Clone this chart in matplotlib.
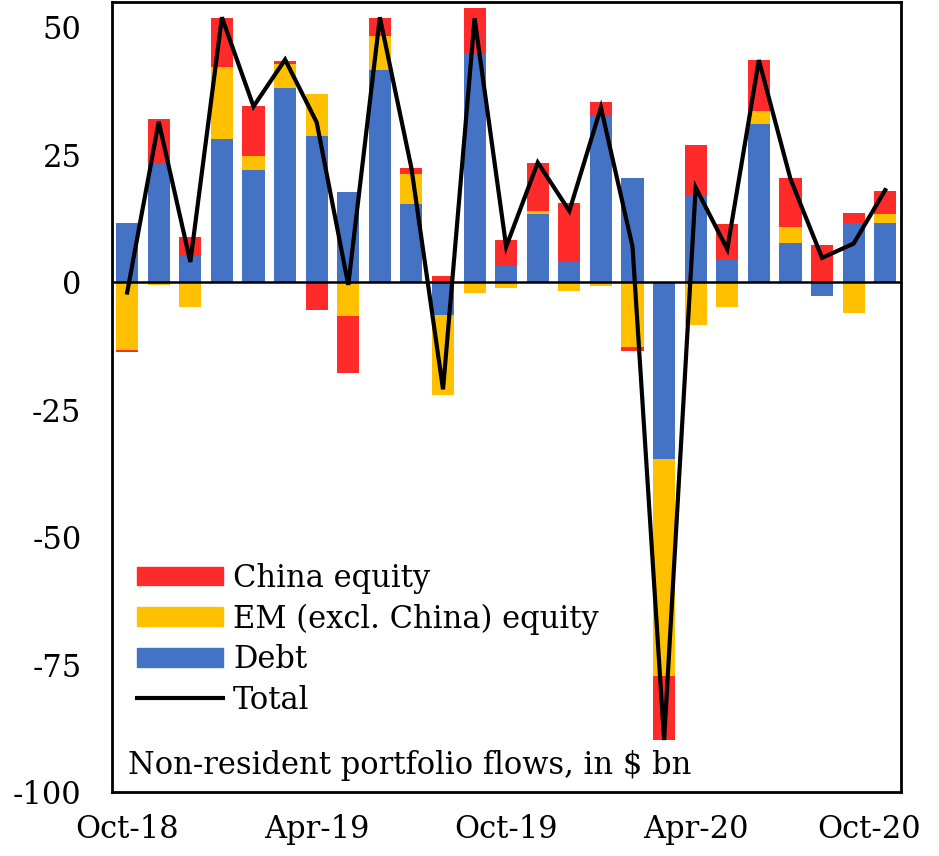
import matplotlib
matplotlib.use("Agg")
import matplotlib.pyplot as plt
import matplotlib.transforms as mtransforms
from matplotlib.patches import Patch
from matplotlib.lines import Line2D
import numpy as np

months = ["Oct-18", "Nov-18", "Dec-18", "Jan-19", "Feb-19", "Mar-19", "Apr-19",
          "May-19", "Jun-19", "Jul-19", "Aug-19", "Sep-19", "Oct-19", "Nov-19",
          "Dec-19", "Jan-20", "Feb-20", "Mar-20", "Apr-20", "May-20", "Jun-20",
          "Jul-20", "Aug-20", "Sep-20", "Oct-20"]
debt = [11.6, 23.3, 5.1, 28.2, 22.1, 38.1, 28.8, 17.7, 41.7, 15.4, -6.5, 44.8, 3.3,
        13.5, 4.0, 32.7, 20.5, -34.7, 16.9, 4.5, 31.0, 7.7, -2.7, 11.6, 11.6]
em_equity = [-13.3, -0.5, -4.8, 14.0, 2.7, 4.7, 8.2, -6.6, 6.7, 5.9, -15.7, -2.1, -1.2,
             0.5, -1.7, -0.8, -12.7, -42.6, -8.4, -4.8, 2.6, 3.1, 0.0, -6.1, 1.9]
china_equity = [-0.3, 8.8, 3.8, 9.7, 9.7, 0.7, -5.5, -11.2, 3.5, 1.2, 1.2, 9.1, 5.1,
                9.4, 11.5, 2.7, -0.7, -12.5, 10.0, 6.9, 10.0, 9.7, 7.3, 2.0, 4.5]
total = [-2.0, 31.5, 4.0, 52.0, 34.5, 43.7, 31.4, -0.5, 52.0, 22.4, -21.0, 51.8, 7.0,
         23.5, 14.0, 34.3, 7.0, -89.8, 18.6, 6.5, 43.6, 20.3, 4.8, 7.6, 18.1]
xtick_labels = ["Oct-18", "Apr-19", "Oct-19", "Apr-20", "Oct-20"]
ytick_values = [-100, -75, -50, -25, 0, 25, 50]

C_RED = "#FF2B2B"
C_YEL = "#FFC000"
C_BLUE = "#4472C4"
SERIF = ["DejaVu Serif"]

fig = plt.figure(figsize=(9.39, 8.56), dpi=100)
ax = fig.add_axes([112 / 939, 1 - 792 / 856, 789 / 939, 790 / 856])

x = np.arange(len(months))
pos_base = np.zeros(len(months))
neg_base = np.zeros(len(months))
for vals, col in [(debt, C_BLUE), (em_equity, C_YEL), (china_equity, C_RED)]:
    v = np.array(vals, dtype=float)
    base = np.where(v >= 0, pos_base, neg_base)
    ax.bar(x, v, bottom=base, width=0.7, color=col, linewidth=0, zorder=2)
    pos_base = pos_base + np.where(v > 0, v, 0)
    neg_base = neg_base + np.where(v < 0, v, 0)

ax.axhline(0, color="black", lw=1.8, zorder=3)
ax.plot(x, total, color="black", lw=3.0, zorder=4, solid_joinstyle="miter")

ax.set_xlim(-0.48, 24.5)
ax.set_ylim(-100, 55)
ax.set_yticks(ytick_values)
ax.set_yticklabels([str(v) for v in ytick_values], fontsize=22, family=SERIF)
ax.set_xticks(x[::6])
ax.set_xticklabels(xtick_labels, fontsize=22, family=SERIF)
ax.tick_params(axis="both", length=0)
ax.tick_params(axis="y", pad=22)
ax.tick_params(axis="x", pad=16)
last = ax.get_xticklabels()[-1]
last.set_transform(last.get_transform() + mtransforms.ScaledTranslation(-16 / 100, 0, fig.dpi_scale_trans))

for s in ax.spines.values():
    s.set_linewidth(2.0)
    s.set_color("black")

handles = [Patch(color=C_RED), Patch(color=C_YEL), Patch(color=C_BLUE),
           Line2D([0], [0], color="black", lw=3.0)]
labels = ["China equity", "EM (excl. China) equity", "Debt", "Total"]
ax.legend(handles, labels, loc="upper left", bbox_to_anchor=(0.032, 0.29),
          frameon=False, prop={"family": SERIF, "size": 22},
          handlelength=2.8, handleheight=0.56, handletextpad=0.33,
          labelspacing=0.31, borderaxespad=0, borderpad=0)

ax.text(0.02, 0.034, "Non-resident portfolio flows, in $ bn", transform=ax.transAxes,
        fontsize=22, family=SERIF, va="center", ha="left", parse_math=False)

fig.savefig("out.png", dpi=100)
